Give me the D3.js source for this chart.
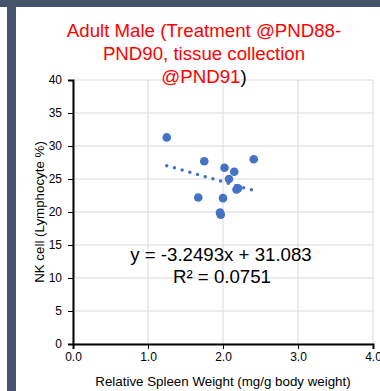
<!DOCTYPE html>
<html>
<head>
<meta charset="utf-8">
<script src="https://cdn.jsdelivr.net/npm/d3@7"></script>
<style>
  body { margin: 0; background: #fff; }
  text { font-family: "Liberation Sans", Arial, sans-serif; }
</style>
</head>
<body>
<div id="chart"></div>
<script>
// spleen weight vs NK cell %
var spleenWeight = [1.25, 1.75, 2.41, 2.02, 2.15, 2.08, 2.20, 2.18, 1.67, 2.00, 1.97, 1.96];
var nkCell       = [31.3, 27.7, 28.0, 26.7, 26.1, 25.0, 23.6, 23.4, 22.2, 22.1, 19.6, 19.9];
var xTicks = [0, 1, 2, 3, 4];
var yTicks = [0, 5, 10, 15, 20, 25, 30, 35, 40];
var slope = -3.2493, intercept = 31.083, rSquared = 0.0751;

var width = 380, height = 391;
var margin = {left: 73, right: 7, top: 80, bottom: 47};

var svg = d3.select("#chart").append("svg")
    .attr("width", width)
    .attr("height", height);

// dark frame along top and left
svg.append("rect").attr("x", 0).attr("y", 0).attr("width", width).attr("height", 7).attr("fill", "#44546a");
svg.append("rect").attr("x", 7).attr("y", 0).attr("width", 9).attr("height", height).attr("fill", "#44546a");

var x = d3.scaleLinear().domain([0, 4]).range([margin.left, width - margin.right]);
var y = d3.scaleLinear().domain([0, 40]).range([height - margin.bottom, margin.top]);

// grid
svg.append("g").selectAll("line")
    .data(yTicks)
  .enter().append("line")
    .attr("x1", x(0)).attr("x2", x(4))
    .attr("y1", d => y(d)).attr("y2", d => y(d))
    .attr("stroke", "#d9d9d9").attr("stroke-width", 1);
svg.append("g").selectAll("line")
    .data(xTicks)
  .enter().append("line")
    .attr("x1", d => x(d)).attr("x2", d => x(d))
    .attr("y1", y(0)).attr("y2", y(40))
    .attr("stroke", "#d9d9d9").attr("stroke-width", 1);

// axes
var xAxis = svg.append("g")
    .attr("transform", "translate(0," + y(0) + ")")
    .call(d3.axisBottom(x).tickValues(xTicks).tickFormat(d3.format(".1f")).tickSizeOuter(0).tickSize(5).tickPadding(3));
var yAxis = svg.append("g")
    .attr("transform", "translate(" + x(0) + ",0)")
    .call(d3.axisLeft(y).tickValues(yTicks).tickSizeOuter(0).tickSize(5).tickPadding(6));

[xAxis, yAxis].forEach(function(a) {
  a.select(".domain").attr("stroke", "#000").attr("stroke-width", 2);
  a.selectAll(".tick line").attr("stroke", "#000");
  a.selectAll(".tick text").attr("font-size", 12).attr("fill", "#000")
    .attr("font-family", "Liberation Sans, Arial, sans-serif");
});

// trendline, dotted, over the data x-range
var xr = d3.extent(spleenWeight);
svg.append("line")
    .attr("x1", x(xr[0])).attr("y1", y(slope * xr[0] + intercept))
    .attr("x2", x(xr[1])).attr("y2", y(slope * xr[1] + intercept))
    .attr("stroke", "#4472c4")
    .attr("stroke-width", 3.5)
    .attr("stroke-linecap", "round")
    .attr("stroke-dasharray", "0 8");

// points
svg.append("g").selectAll("circle")
    .data(spleenWeight)
  .enter().append("circle")
    .attr("cx", d => x(d))
    .attr("cy", (d, i) => y(nkCell[i]))
    .attr("r", 4.3)
    .attr("fill", "#4472c4");

// equation
svg.append("text")
    .attr("x", 221).attr("y", 261)
    .attr("text-anchor", "middle")
    .attr("font-size", 18.67)
    .text("y = " + slope + "x + " + intercept);
svg.append("text")
    .attr("x", 222).attr("y", 283)
    .attr("text-anchor", "middle")
    .attr("font-size", 18.67)
    .text("R\u00b2 = " + rSquared);

// title
var title = svg.append("text")
    .attr("text-anchor", "middle")
    .attr("font-size", 18.67)
    .attr("fill", "#ff0000");
title.append("tspan").attr("x", 204).attr("y", 37).text("Adult Male (Treatment @PND88-");
title.append("tspan").attr("x", 204).attr("y", 60).text("PND90, tissue collection");
var l3 = title.append("tspan").attr("x", 204).attr("y", 83);
l3.append("tspan").text("@PND91");
l3.append("tspan").attr("fill", "#000").text(")");

// axis titles
svg.append("text")
    .attr("x", (x(0) + x(4)) / 2).attr("y", 386)
    .attr("text-anchor", "middle")
    .attr("font-size", 13.33)
    .text("Relative Spleen Weight (mg/g body weight)");
svg.append("text")
    .attr("transform", "translate(44," + ((y(0) + y(40)) / 2) + ") rotate(-90)")
    .attr("text-anchor", "middle")
    .attr("font-size", 13.33)
    .text("NK cell (Lymphocyte %)");
</script>
</body>
</html>
